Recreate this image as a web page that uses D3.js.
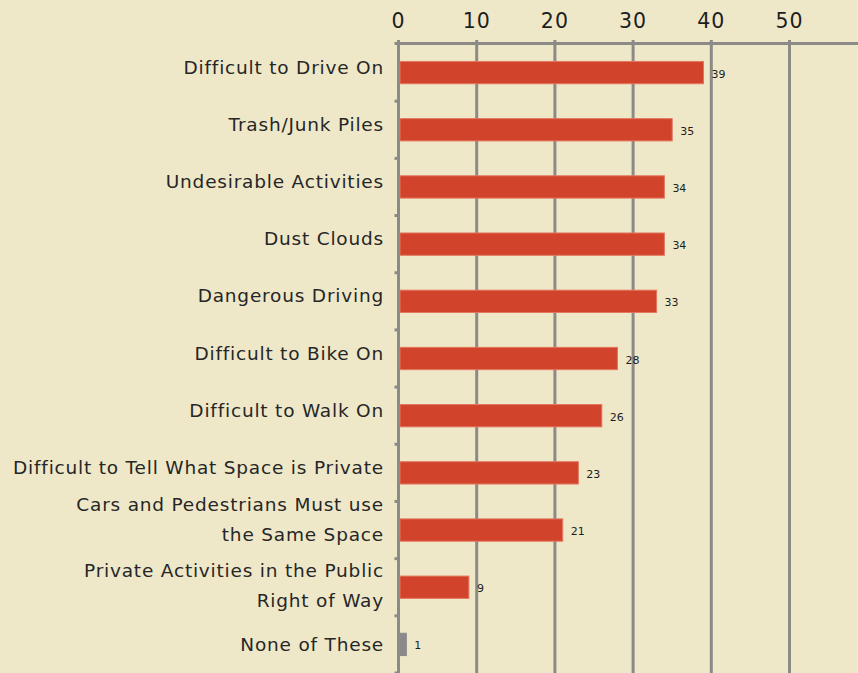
<!DOCTYPE html>
<html>
<head>
<meta charset="utf-8">
<script src="https://cdn.jsdelivr.net/npm/d3@7"></script>
<style>
  html, body { margin: 0; padding: 0; background: #eee8c9; }
  svg { display: block; font-family: "DejaVu Sans", "Open Sans", sans-serif; }
</style>
</head>
<body>
<svg width="858" height="673"></svg>
<script>
// categories, top to bottom
var categories = [
  'Difficult to Drive On',
  'Trash/Junk Piles',
  'Undesirable Activities',
  'Dust Clouds',
  'Dangerous Driving',
  'Difficult to Bike On',
  'Difficult to Walk On',
  'Difficult to Tell What Space is Private',
  'Cars and Pedestrians Must use|the Same Space',
  'Private Activities in the Public|Right of Way',
  'None of These'
]
var values = [39, 35, 34, 34, 33, 28, 26, 23, 21, 9, 1]
var tickValues = [0, 10, 20, 30, 40, 50]

var svg = d3.select('svg')
var gridColor = '#8c8a86'

var x = d3.scaleLinear().domain([0, 10]).range([398.5, 476.7])
var y = d3.scaleBand().domain(categories).range([44, 673]).paddingInner(0.61).paddingOuter(0.305)
var band = d3.scaleBand().domain(categories).range([44, 673])

// gridlines
svg.append('g')
  .selectAll('line')
  .data(tickValues)
  .enter().append('line')
    .attr('x1', function(d) { return x(d) })
    .attr('x2', function(d) { return x(d) })
    .attr('y1', 40)
    .attr('y2', 673)
    .attr('stroke', gridColor)
    .attr('stroke-width', 3)

// top axis line
svg.append('line')
  .attr('x1', x(0) - 4).attr('x2', 858)
  .attr('y1', 43.5).attr('y2', 43.5)
  .attr('stroke', gridColor).attr('stroke-width', 3)

// small ticks on the category axis
svg.append('g')
  .selectAll('line')
  .data(categories)
  .enter().append('line')
    .attr('x1', x(0) - 4)
    .attr('x2', x(0))
    .attr('y1', function(d) { return band(d) + band.bandwidth() })
    .attr('y2', function(d) { return band(d) + band.bandwidth() })
    .attr('stroke', gridColor)
    .attr('stroke-width', 3)

// tick labels
svg.append('g')
  .selectAll('text')
  .data(tickValues)
  .enter().append('text')
    .attr('x', function(d) { return x(d) })
    .attr('y', 28)
    .attr('text-anchor', 'middle')
    .attr('font-size', 20.5)
    .attr('letter-spacing', 1)
    .attr('fill', '#1e1e1e')
    .text(function(d) { return d })

// bars
svg.append('g')
  .selectAll('rect')
  .data(values)
  .enter().append('rect')
    .attr('x', x(0) + 1.5)
    .attr('y', function(d, i) { return y(categories[i]) })
    .attr('width', function(d) { return x(d) - x(0) - 1.5 })
    .attr('height', y.bandwidth())
    .attr('fill', function(d, i) { return i == categories.length - 1 ? '#8a8a8a' : '#d2432c' })
    .attr('stroke', function(d, i) { return i == categories.length - 1 ? '#8a8a8a' : '#e4765f' })
    .attr('stroke-width', 1)

// value labels
svg.append('g')
  .selectAll('text')
  .data(values)
  .enter().append('text')
    .attr('x', function(d) { return x(d) + 8 })
    .attr('y', function(d, i) { return y(categories[i]) + y.bandwidth() / 2 + 5 })
    .attr('font-size', 11)
    .attr('fill', '#1e1e1e')
    .text(function(d) { return d })

// category labels
var label = svg.append('g')
  .selectAll('text')
  .data(categories)
  .enter().append('text')
    .attr('x', 384)
    .attr('y', function(d, i) {
      var c = y(d) + y.bandwidth() / 2
      if (i == categories.length - 1) return c + 7
      if (d.indexOf('|') < 0) return c + 1
      return i == 9 ? c - 10 : c - 19
    })
    .attr('text-anchor', 'end')
    .attr('font-size', 18.5)
    .attr('letter-spacing', 0.8)
    .attr('fill', '#262626')

label.each(function(d) {
  var parts = d.split('|')
  var t = d3.select(this)
  parts.forEach(function(p, i) {
    t.append('tspan')
      .attr('x', 384)
      .attr('dy', i == 0 ? 0 : 30)
      .text(p)
  })
})
</script>
</body>
</html>
